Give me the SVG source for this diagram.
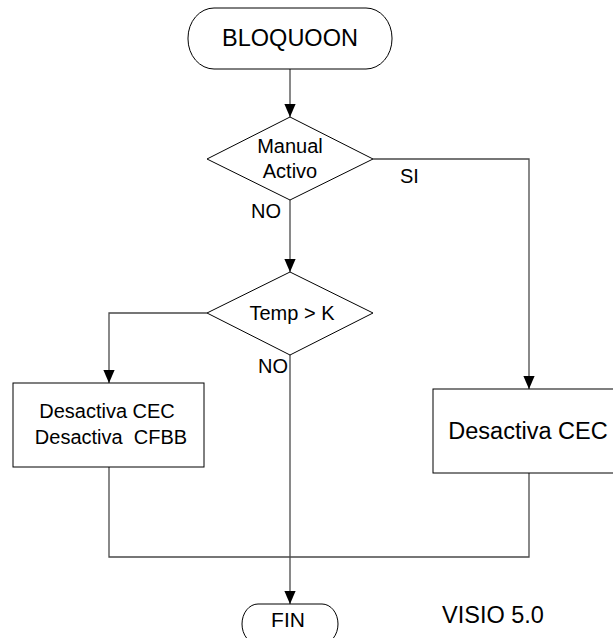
<svg xmlns="http://www.w3.org/2000/svg" width="613" height="638" viewBox="0 0 613 638">
  <style>
    .shape { fill: #ffffff; stroke: #000000; stroke-width: 1; }
    .wire { fill: none; stroke: #4a4a4a; stroke-width: 1.3; }
    text { font-family: "Liberation Sans", Arial, sans-serif; fill: #000000; }
    .t20 { font-size: 20px; }
    .t23 { font-size: 23.5px; }
    .mid { text-anchor: middle; }
  </style>
  <defs>
    <marker id="arrow" markerWidth="13" markerHeight="15" refX="15" refY="6.5" viewBox="0 0 15 13" orient="auto" markerUnits="userSpaceOnUse">
      <path d="M0,0 L15,6.5 L0,13 Z" fill="#000000"/>
    </marker>
  </defs>

  <rect width="613" height="638" fill="#ffffff"/>

  <!-- connectors -->
  <g id="connectors">
    <path class="wire" d="M290,69 V117" marker-end="url(#arrow)"/>
    <path class="wire" d="M290,200 V272" marker-end="url(#arrow)"/>
    <path class="wire" d="M373,159 H529 V389" marker-end="url(#arrow)"/>
    <path class="wire" d="M207,313 H109 V383" marker-end="url(#arrow)"/>
    <path class="wire" d="M290,355 V604" marker-end="url(#arrow)"/>
    <path class="wire" d="M109,467 V557 H529 V473"/>
  </g>

  <!-- start terminal -->
  <g id="start">
    <rect class="shape" x="188" y="8" width="204" height="61" rx="26" ry="30"/>
    <text class="t23 mid" x="290" y="46">BLOQUOON</text>
  </g>

  <!-- decision: manual mode -->
  <g id="manual">
    <polygon class="shape" points="290,117 373,159 290,200 207,159"/>
    <text class="t20 mid" x="290" y="153">Manual</text>
    <text class="t20 mid" x="290" y="178">Activo</text>
    <text class="t20" x="400" y="183">SI</text>
    <text class="t20" x="281" y="218" text-anchor="end">NO</text>
  </g>

  <!-- decision: temperature -->
  <g id="temp">
    <polygon class="shape" points="290,272 373,313 290,355 207,313"/>
    <text class="t20 mid" x="292" y="320">Temp &gt; K</text>
    <text class="t20" x="288" y="373" text-anchor="end">NO</text>
  </g>

  <!-- action: both off -->
  <g id="off-both">
    <rect class="shape" x="13" y="383" width="191" height="84"/>
    <text class="t20 mid" x="107" y="418">Desactiva CEC</text>
    <text class="t20 mid" x="111" y="444" xml:space="preserve">Desactiva  CFBB</text>
  </g>

  <!-- action: CEC off -->
  <g id="off-cec">
    <rect class="shape" x="433" y="389" width="190" height="84"/>
    <text class="t23 mid" x="528" y="439">Desactiva CEC</text>
  </g>

  <!-- end terminal -->
  <g id="end">
    <rect class="shape" x="242" y="604" width="96" height="40" rx="16" ry="20"/>
    <text class="mid" x="288" y="627" style="font-size:21px">FIN</text>
  </g>

  <text class="t23" x="442" y="623">VISIO 5.0</text>
</svg>
